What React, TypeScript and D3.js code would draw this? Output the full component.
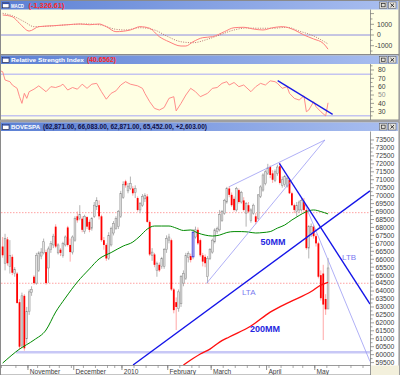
import * as d3 from "d3";

// month / week ticks (trading-day index)
const monthLabels = ["November", "December", "2010", "February", "March", "April", "May"];
const monthStartIdx = [11, 30, 50, 69, 87, 110, 130];
const weekStartIdx = [0, 6, 11, 15, 20, 24, 29, 34, 39, 44, 47, 50, 55, 60, 65, 69, 74, 79, 82, 87, 92, 97, 102, 107, 111, 116, 121, 125, 130, 135, 140, 145, 150];

// BOVESPA daily candles, mid Oct 2009 -> 10 May 2010
const openP = [
  66800, 65750, 67250, 65550, 66150, 65100, 65100, 63300, 60600, 63700,
  61000, 62700, 63900, 64900, 64500, 65300, 66200, 66400, 66450, 65450,
  66600, 66900, 68050, 66400, 66600, 66250, 66900, 68000, 66900, 66450,
  67200, 68700, 68550, 68550, 67750, 68650, 68350, 67950, 68700, 69300,
  69400, 68700, 67200, 66900, 66050, 66900, 67650, 67950, 68050, 68700,
  69900, 70900, 70300, 70450, 70450, 70200, 69850, 69100, 69400, 69800,
  69950, 68350, 66250, 66300, 65300, 65650, 65550, 65550, 66600, 67200,
  67200, 64100, 63300, 62900, 63200, 64500, 64800, 66100, 66200, 66150,
  67400, 67850, 67200, 66250, 66150, 64900, 66050, 66450, 67100, 67750,
  67850, 68450, 68900, 69600, 70450, 70050, 69800, 69100, 70350, 69600,
  69700, 68900, 69400, 68450, 68900, 68700, 68550, 69950, 70350, 70750,
  71400, 71800, 71400, 70950, 71400, 71850, 70650, 70700, 70600, 71000,
  70150, 69400, 69000, 69100, 69100, 69600, 69100, 66700, 67650, 68050,
  67450, 67000, 65000, 65100, 63500, 62871,
];
const highP = [
  67400, 67600, 67400, 67200, 66300, 65500, 65200, 63500, 63900, 63800,
  63000, 64100, 64300, 65000, 66400, 66500, 66700, 67300, 66600, 66800,
  67150, 67600, 68200, 67000, 66700, 67100, 67500, 68100, 67300, 67500,
  68700, 69000, 69400, 68700, 68800, 68700, 68500, 68650, 69600, 69900,
  69700, 68800, 67400, 67000, 67700, 68050, 68400, 68700, 69100, 70300,
  70900, 71000, 70800, 71200, 70600, 70650, 69950, 69600, 70100, 70150,
  70100, 68450, 66700, 66400, 65850, 65800, 66150, 66700, 67500, 67600,
  67300, 64200, 63600, 64100, 65000, 65300, 66400, 66500, 66350, 67900,
  68050, 68000, 67300, 66400, 66300, 66200, 66700, 67300, 67950, 68050,
  69100, 69100, 69800, 70550, 70600, 70200, 69950, 70550, 70450, 70300,
  69900, 69600, 69600, 69200, 69500, 68900, 70100, 70650, 71400, 71600,
  72000, 71900, 71600, 71650, 71950, 72070, 71200, 71300, 71200, 71100,
  70250, 69500, 69600, 69700, 69850, 69850, 69200, 68150, 68250, 68150,
  67600, 67100, 65300, 65650, 63800, 66083,
];
const lowP = [
  66100, 65300, 65600, 65100, 65000, 64900, 63200, 60300, 60400, 60250,
  60700, 62500, 63700, 64400, 64400, 65200, 66000, 66300, 64400, 64500,
  66400, 66700, 66700, 66300, 66200, 66100, 66800, 66800, 65850, 66300,
  67100, 68300, 68450, 67700, 67600, 67900, 67700, 67800, 68600, 69100,
  68500, 67100, 66600, 65900, 65950, 66800, 67500, 67850, 67900, 68600,
  69800, 70500, 70150, 70350, 70000, 69850, 69000, 68900, 69300, 69600,
  68300, 66200, 65900, 65500, 64900, 65200, 65400, 65400, 66400, 67000,
  64000, 62600, 61550, 62700, 63000, 64300, 64700, 65800, 65800, 66000,
  67300, 66900, 66150, 65550, 65500, 64480, 65950, 66350, 67000, 67600,
  67750, 68350, 68800, 69500, 69900, 69300, 69000, 69000, 69500, 69500,
  69000, 68050, 68900, 68300, 68800, 68200, 68450, 69850, 70250, 70650,
  71300, 71100, 70800, 70850, 71250, 70700, 70500, 70550, 70500, 70100,
  69350, 68900, 68700, 68900, 69000, 68950, 66600, 66050, 67400, 67300,
  66800, 64800, 63400, 60920, 62500, 62871,
];
const closeP = [
  66250, 67300, 65750, 66250, 65150, 65350, 63250, 60500, 63700, 60400,
  62700, 63950, 64100, 64500, 66250, 66400, 66450, 67100, 64500, 66650,
  67000, 67450, 66800, 66900, 66400, 67000, 67400, 66900, 66450, 67400,
  68550, 68450, 68800, 67850, 68700, 68050, 67850, 68550, 69400, 69700,
  68700, 67200, 66900, 66050, 67500, 67950, 68250, 68550, 69000, 70150,
  70700, 70650, 70600, 70750, 70150, 70450, 69100, 69500, 69950, 70000,
  68350, 66300, 66450, 65650, 65750, 65300, 66050, 66600, 67300, 67400,
  64100, 62800, 63000, 63950, 64900, 65100, 66250, 66350, 65950, 67700,
  67850, 67000, 66250, 65850, 65750, 66050, 66600, 67200, 67850, 67950,
  68800, 69000, 69700, 70450, 70050, 69400, 69100, 70450, 69600, 70200,
  69100, 69500, 69000, 69100, 69400, 68350, 70050, 70550, 71300, 71500,
  71750, 71300, 71000, 71500, 71800, 70800, 71000, 71200, 71100, 70150,
  69400, 69100, 69400, 69600, 69700, 69100, 66700, 68050, 68050, 67450,
  67000, 64900, 63550, 63150, 62850, 65452,
];
const markedIdx = [79];

// moving averages as drawn on the chart
const ma50Idx = [0, 7, 13, 18, 22, 26, 31, 36, 40, 45, 50, 54, 57, 60, 63, 66, 69, 72, 75, 78, 81, 84, 87, 90, 93, 96, 99, 102, 105, 108, 111, 114, 117, 120, 123, 126, 129, 132, 135];
const ma50Val = [59470, 60350, 60920, 61550, 62680, 63560, 64570, 65390, 66020, 66420, 66830, 67080, 67460, 67900, 68090, 68090, 68090, 67960, 67810, 67840, 67650, 67520, 67460, 67520, 67680, 67740, 67740, 67710, 67650, 67680, 67740, 67960, 68150, 68470, 68750, 68990, 69100, 69000, 68850];
const ma200Idx = [75, 82, 86, 90, 94, 103, 111, 119, 128, 132, 135];
const ma200Val = [59350, 60040, 60350, 60790, 61110, 61800, 62680, 63310, 63970, 64380, 64550];

// drawn lines (two anchor points each)
const ltaIdx = [54.1, 152.4];
const ltaVal = [59348, 70300];
const ltbIdx = [114.8, 152.4];
const ltbVal = [72034, 63184];
const wedgeTopIdx = [94, 133.7];
const wedgeTopVal = [70563, 73500];
const wedgeRiseIdx = [84.6, 133.7];
const wedgeRiseVal = [64486, 73500];
const fanIdx = [124.7, 152.4];
const fanVal = [69726, 59567];
const dottedLevels = [68930, 64490];
const supportStartIdx = 5.5;
const supportLevel = 60150;

// MACD panel
const macdIdx = [0, 4, 7, 11, 15, 21, 27, 32, 36, 40, 43, 47, 53, 57, 61, 65, 69, 74, 76, 79, 83, 87, 92, 96, 100, 104, 108, 112, 116, 121, 125, 129, 133, 135];
const macdVal = [1870, 1710, 1090, 370, 780, 870, 960, 1030, 960, 1030, 780, 310, 470, 780, 630, -160, -630, -1030, -1030, -630, -250, -160, 310, 680, 720, 560, 470, 680, 780, 470, 0, -370, -780, -1327];
const signalIdx = [0, 4, 9, 13, 20, 27, 34, 40, 47, 51, 57, 63, 68, 74, 79, 85, 90, 96, 101, 107, 112, 118, 123, 129, 135];
const signalVal = [2030, 1800, 1240, 780, 840, 960, 1030, 960, 530, 470, 680, 470, -90, -630, -720, -400, 0, 470, 650, 630, 630, 720, 370, -90, -840];

// RSI panel
const rsiIdx = [-1, 0, 1, 3, 4, 6, 7, 8, 9, 10, 11, 13, 15, 18, 20, 22, 24, 25, 27, 29, 31, 33, 35, 37, 39, 41, 43, 45, 47, 49, 51, 53, 56, 58, 59, 61, 63, 65, 67, 69, 71, 72, 74, 76, 78, 80, 82, 85, 87, 89, 91, 93, 94, 96, 98, 100, 103, 105, 107, 109, 111, 113, 114, 116, 118, 119, 121, 123, 125, 126, 127, 129, 130, 132, 134, 135];
const rsiVal = [79, 78, 68, 66, 62, 58, 48, 40, 52, 46, 54, 57, 61, 54, 60, 59, 61, 63, 56, 59, 57, 63, 58, 63, 64, 54, 45, 52, 55, 62, 66, 63, 61, 58, 52, 42, 34, 32, 35, 46, 48, 31, 40, 50, 58, 54, 48, 52, 58, 59, 64, 66, 62, 65, 60, 62, 54, 60, 64, 62, 67, 66, 64, 58, 60, 52, 46, 44, 49, 30, 32, 42, 36, 30, 25, 40.66];
const rsiLevels = [75, 25];
const rsiTrendIdx = [114.1, 136.9];
const rsiTrendVal = [67.2, 26.8];

const FONT = "Liberation Sans, Arial, sans-serif";
const NARROW = "Liberation Sans Narrow, Arial Narrow, Liberation Sans, sans-serif";

function TitleBar({ y, name, nameLen, value, valueLen, valueColor, valueX }: any) {
  return (
    <g>
      <rect x={1} y={y} width={397} height={8.5} fill="url(#tbar)" />
      <rect x={2.5} y={y + 1.8} width={6.5} height={5} fill="#fff" stroke="#202040" strokeWidth={0.6} />
      <rect x={2.5} y={y + 1.8} width={6.5} height={1.3} fill="#3050b0" />
      <text x={11} y={y + 6.9} fontSize={6.2} fontWeight="bold" fontFamily={NARROW} fill="#fff"
        textLength={nameLen} lengthAdjust="spacingAndGlyphs">{name}</text>
      <text x={valueX} y={y + 6.9} fontSize={6.5} fontWeight="bold" fontFamily={NARROW} fill={valueColor}
        textLength={valueLen} lengthAdjust="spacingAndGlyphs">{value}</text>
      <rect x={379.5} y={y + 1} width={7.5} height={6.5} fill="#e4e2dc" stroke="#505050" strokeWidth={0.5} />
      <rect x={381.3} y={y + 2.6} width={3.8} height={3.2} fill="none" stroke="#202020" strokeWidth={0.7} />
      <rect x={388.5} y={y + 1} width={7.5} height={6.5} fill="#e4e2dc" stroke="#505050" strokeWidth={0.5} />
      <path d={`M390.5,${y + 2.6}L394,${y + 6}M394,${y + 2.6}L390.5,${y + 6}`} stroke="#202020" strokeWidth={0.9} />
    </g>
  );
}

export default function App() {
  const x = d3.scaleLinear().domain([-1.1, 152.4]).range([0, 370]);
  const yP = d3.scaleLinear().domain([59500, 73500]).range([362.6, 140]);
  const yM = d3.scaleLinear().domain([-1000, 1000]).range([45.7, 24.3]);
  const yR = d3.scaleLinear().domain([30, 80]).range([111.7, 70]);

  const path = (xs: number[], vs: number[], y: any, curve: any) =>
    d3.line<number>().x((_, i) => x(xs[i])).y((v) => y(v)).curve(curve)(vs) || "";

  const seg = (xs: number[], vs: number[], y: any) => ({ x1: x(xs[0]), y1: y(vs[0]), x2: x(xs[1]), y2: y(vs[1]) });

  const priceTicks = d3.range(59500, 73501, 500);
  const priceMinor = d3.range(59750, 73501, 500);
  const macdTicks = d3.range(-1500, 2001, 500);
  const rsiTicks = d3.range(30, 81, 10);
  const rsiMinor = d3.range(25, 86, 10);

  const barW = 1.8;

  return (
    <svg width={400} height={375} style={{ position: "absolute", left: 0, top: 0 }}>
      <defs>
        <linearGradient id="tbar" x1="0" x2="1" y1="0" y2="0">
          <stop offset="0" stopColor="#5c80d4" />
          <stop offset="1" stopColor="#aabff0" />
        </linearGradient>
        <clipPath id="cM"><rect x={1} y={9.5} width={369} height={44} /></clipPath>
        <clipPath id="cR"><rect x={1} y={63.5} width={369} height={56} /></clipPath>
        <clipPath id="cP"><rect x={1} y={131.5} width={369} height={233.5} /></clipPath>
      </defs>

      <rect width={400} height={375} fill="#b4b4b4" />

      {/* MACD panel */}
      <rect x={0.5} y={0.5} width={398.5} height={54} fill="#ffffe3" stroke="#8a8a8a" />
      <TitleBar y={1} name="MACD" nameLen={13} value="(-1,326.61)" valueLen={36} valueColor="#ff2a2a" valueX={28.5} />
      <line x1={370.5} x2={370.5} y1={9.5} y2={54} stroke="#808080" strokeWidth={0.8} />
      <g clipPath="url(#cM)">
        <line x1={1} x2={370} y1={yM(0)} y2={yM(0)} stroke="#8c8ce0" strokeWidth={1} />
        <path d={path(signalIdx, signalVal, yM, d3.curveMonotoneX)} fill="none" stroke="#b06868" strokeWidth={0.9} strokeDasharray="1 1.4" />
        <path d={path(macdIdx, macdVal, yM, d3.curveMonotoneX)} fill="none" stroke="#ff7d7d" strokeWidth={1} />
      </g>
      {macdTicks.map((t) => (
        <line key={t} x1={370.5} x2={t % 1000 === 0 ? 374 : 372.5} y1={yM(t)} y2={yM(t)} stroke="#606060" strokeWidth={0.6} />
      ))}
      {[1000, 0, -1000].map((t) => (
        <text key={t} x={t < 0 ? 375 : 377} y={yM(t)} dy="0.35em" fontSize={6.8} fontFamily={NARROW} fill="#404040">{t}</text>
      ))}

      {/* RSI panel */}
      <rect x={0.5} y={55} width={398.5} height={65} fill="#ffffe3" stroke="#8a8a8a" />
      <TitleBar y={55.5} name="Relative Strength Index" nameLen={73} value="(40.6562)" valueLen={29} valueColor="#ff2a2a" valueX={87} />
      <line x1={370.5} x2={370.5} y1={64} y2={120} stroke="#808080" strokeWidth={0.8} />
      <g clipPath="url(#cR)">
        {rsiLevels.map((l) => (
          <line key={l} x1={1} x2={370} y1={yR(l)} y2={yR(l)} stroke="#c4c4f0" strokeWidth={1.5} />
        ))}
        <path d={path(rsiIdx, rsiVal, yR, d3.curveLinear)} fill="none" stroke="#ff8080" strokeWidth={0.9} />
        <line {...seg(rsiTrendIdx, rsiTrendVal, yR)} stroke="#1a1ae6" strokeWidth={1.3} />
      </g>
      {rsiTicks.map((t) => (
        <g key={t}>
          <line x1={370.5} x2={374} y1={yR(t)} y2={yR(t)} stroke="#606060" strokeWidth={0.6} />
          <text x={378} y={yR(t)} dy="0.35em" fontSize={6.8} fontFamily={NARROW} fill={t === 50 ? "#909090" : "#404040"}>{t}</text>
        </g>
      ))}
      {rsiMinor.map((t) => (
        <line key={t} x1={370.5} x2={372.5} y1={yR(t)} y2={yR(t)} stroke="#606060" strokeWidth={0.6} />
      ))}

      {/* Price panel */}
      <rect x={0.5} y={122} width={398.5} height={253} fill="#ffffff" stroke="#8a8a8a" />
      <TitleBar y={122.5} name="BOVESPA" nameLen={29} value="(62,871.00, 66,083.00, 62,871.00, 65,452.00, +2,603.00)" valueLen={164} valueColor="#101048" valueX={43} />
      <rect x={371} y={365.5} width={28} height={9.5} fill="#f3f0dc" />

      <g clipPath="url(#cP)">
        {dottedLevels.map((l) => (
          <line key={l} x1={1} x2={370} y1={yP(l)} y2={yP(l)} stroke="#ff8a8a" strokeWidth={0.8} strokeDasharray="1.5 1.5" />
        ))}
        <line x1={x(supportStartIdx)} x2={370} y1={yP(supportLevel)} y2={yP(supportLevel)} stroke="#c8c8f6" strokeWidth={2.4} />

        {openP.map((o, i) => {
          const c = closeP[i];
          const up = c >= o;
          const cx = x(i);
          const top = yP(Math.max(o, c));
          const bot = yP(Math.min(o, c));
          const marked = markedIdx.includes(i);
          return (
            <g key={i}>
              <line x1={cx} x2={cx} y1={yP(highP[i])} y2={yP(lowP[i])} stroke={up ? "#a0a0a0" : "#ff9090"} strokeWidth={0.8} />
              <rect x={cx - barW / 2} y={top} width={barW} height={Math.max(bot - top, 0.8)}
                fill={up ? "#e2e2e2" : "#ff0000"}
                stroke={marked ? "#2a2ae0" : up ? "#8a8a8a" : "none"} strokeWidth={marked ? 0.8 : 0.5} />
            </g>
          );
        })}

        <path d={path(ma50Idx, ma50Val, yP, d3.curveMonotoneX)} fill="none" stroke="#008a00" strokeWidth={1} />
        <path d={path(ma200Idx, ma200Val, yP, d3.curveMonotoneX)} fill="none" stroke="#ff1010" strokeWidth={1.4} />

        <line {...seg(wedgeTopIdx, wedgeTopVal, yP)} stroke="#9c9cf4" strokeWidth={0.8} />
        <line {...seg(wedgeRiseIdx, wedgeRiseVal, yP)} stroke="#9c9cf4" strokeWidth={0.8} />
        <line {...seg(fanIdx, fanVal, yP)} stroke="#9c9cf4" strokeWidth={0.8} />
        <line {...seg(ltaIdx, ltaVal, yP)} stroke="#1414e8" strokeWidth={1.3} />
        <line {...seg(ltbIdx, ltbVal, yP)} stroke="#1414e8" strokeWidth={1.3} />

        <text x={x(107)} y={yP(66896)} fontSize={9} fontWeight="bold" fontFamily={FONT} fill="#2626e0">50MM</text>
        <text x={x(102.6)} y={yP(61423)} fontSize={9} fontWeight="bold" fontFamily={FONT} fill="#2626e0">200MM</text>
        <text x={x(99.3)} y={yP(63750)} fontSize={8} fontFamily={FONT} fill="#7a7af0">LTA</text>
        <text x={x(140.8)} y={yP(65952)} fontSize={8} fontFamily={FONT} fill="#7a7af0">LTB</text>
      </g>

      {/* price axis */}
      <line x1={370.5} x2={370.5} y1={131.5} y2={375} stroke="#808080" strokeWidth={0.8} />
      {priceTicks.map((t) => (
        <g key={t}>
          <line x1={370.5} x2={374} y1={yP(t)} y2={yP(t)} stroke="#606060" strokeWidth={0.6} />
          <text x={375.5} y={yP(t)} dy="0.35em" fontSize={6.8} fontFamily={NARROW} fill="#404040">{t}</text>
        </g>
      ))}
      {priceMinor.map((t) => (
        <line key={t} x1={370.5} x2={372.5} y1={yP(t)} y2={yP(t)} stroke="#606060" strokeWidth={0.6} />
      ))}

      {/* time axis */}
      <line x1={0.5} x2={370.5} y1={365.5} y2={365.5} stroke="#808080" strokeWidth={0.8} />
      {weekStartIdx.map((w) => (
        <line key={w} x1={x(w - 0.5)} x2={x(w - 0.5)} y1={365.5} y2={368} stroke="#707070" strokeWidth={0.6} />
      ))}
      {monthStartIdx.map((m, i) => (
        <g key={m}>
          <line x1={x(m - 0.5)} x2={x(m - 0.5)} y1={365.5} y2={370} stroke="#606060" strokeWidth={0.7} />
          <text x={x(m - 0.5) + 1.8} y={374} fontSize={6.6} fontFamily={FONT} fill="#404040">{monthLabels[i]}</text>
        </g>
      ))}
    </svg>
  );
}
